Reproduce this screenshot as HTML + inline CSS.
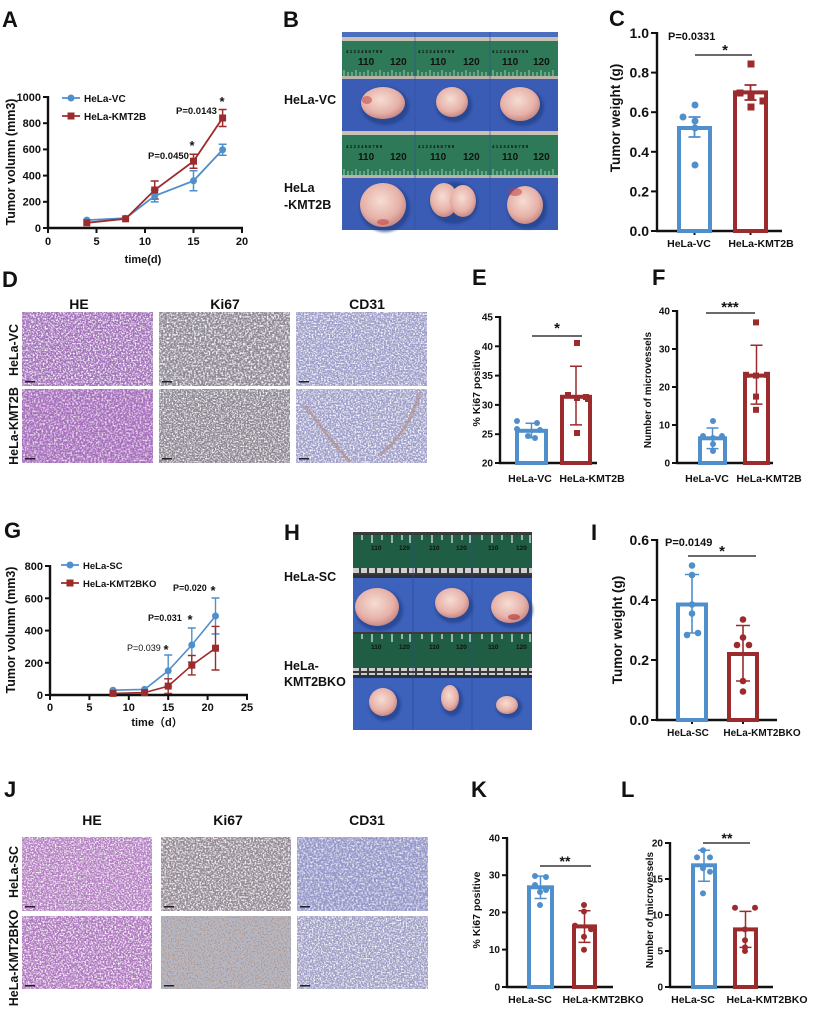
<!DOCTYPE html>
<html><head><meta charset="utf-8"><style>
html,body{margin:0;padding:0;background:#fff;}
svg{display:block;}
text{font-family:"Liberation Sans","Noto Sans CJK SC",Arial,sans-serif;font-weight:bold;fill:#111;}
.ax{stroke:#111;stroke-width:2.4;fill:none;}
.tk{stroke:#111;stroke-width:2;}
.b{stroke:#4f8fcb;}
.r{stroke:#9c2b2e;}
.n{font-weight:normal;}
</style></head><body>
<svg width="824" height="1010" viewBox="0 0 824 1010" xmlns="http://www.w3.org/2000/svg">
<defs>
<filter id="s1" x="0" y="0" width="1" height="1"><feTurbulence type="fractalNoise" baseFrequency="0.6" numOctaves="2" seed="3"/><feColorMatrix type="matrix" values="0 0 0 0 1 0 0 0 0 1 0 0 0 0 1 0 0 0 -3 1.75"/></filter>
<filter id="s2" x="0" y="0" width="1" height="1"><feTurbulence type="fractalNoise" baseFrequency="0.55" numOctaves="2" seed="11"/><feColorMatrix type="matrix" values="0 0 0 0 1 0 0 0 0 1 0 0 0 0 1 0 0 0 -3 1.75"/></filter>
<filter id="s3" x="0" y="0" width="1" height="1"><feTurbulence type="fractalNoise" baseFrequency="0.65" numOctaves="2" seed="27"/><feColorMatrix type="matrix" values="0 0 0 0 1 0 0 0 0 1 0 0 0 0 1 0 0 0 -3 1.75"/></filter>
<filter id="br" x="0" y="0" width="1" height="1"><feTurbulence type="fractalNoise" baseFrequency="0.7" numOctaves="1" seed="5"/><feColorMatrix type="matrix" values="0 0 0 0 0.42 0 0 0 0 0.26 0 0 0 0 0.18 0 0 0 -5 2.6"/></filter>
<filter id="bl"><feGaussianBlur stdDeviation="1.2"/></filter>
<radialGradient id="tg" cx="0.45" cy="0.4" r="0.6"><stop offset="0" stop-color="#f6ddd4"/><stop offset="0.7" stop-color="#e6b1a8"/><stop offset="1" stop-color="#c98a86"/></radialGradient>
<pattern id="sq" width="8" height="7" patternUnits="userSpaceOnUse"><rect width="8" height="7" fill="#3a3a3a"/><rect x="1" y="1" width="6" height="5" fill="#cfcfcf"/></pattern>
</defs>

<!-- ===== Panel A ===== -->
<text x="2" y="27" font-size="22">A</text>
<line class="ax" x1="48" y1="96" x2="48" y2="228"/>
<line class="ax" x1="47" y1="228" x2="243" y2="228"/>
<g class="tk">
<line x1="43" y1="97" x2="48" y2="97"/><line x1="43" y1="123.2" x2="48" y2="123.2"/><line x1="43" y1="149.4" x2="48" y2="149.4"/><line x1="43" y1="175.6" x2="48" y2="175.6"/><line x1="43" y1="201.8" x2="48" y2="201.8"/><line x1="43" y1="228" x2="48" y2="228"/>
<line x1="48" y1="228" x2="48" y2="233"/><line x1="96.5" y1="228" x2="96.5" y2="233"/><line x1="145" y1="228" x2="145" y2="233"/><line x1="193.5" y1="228" x2="193.5" y2="233"/><line x1="242" y1="228" x2="242" y2="233"/>
</g>
<g font-size="11" text-anchor="end">
<text x="41" y="101">1000</text><text x="41" y="127">800</text><text x="41" y="153">600</text><text x="41" y="179.5">400</text><text x="41" y="205.5">200</text><text x="41" y="232">0</text>
</g>
<g font-size="11" text-anchor="middle">
<text x="48" y="245">0</text><text x="96.5" y="245">5</text><text x="145" y="245">10</text><text x="193.5" y="245">15</text><text x="242" y="245">20</text>
<text x="143" y="263">time(d)</text>
</g>
<text transform="translate(15,162) rotate(-90)" font-size="12.5" text-anchor="middle">Tumor volumn (mm3)</text>
<line x1="62" y1="98" x2="80" y2="98" stroke="#4f8fcb" stroke-width="1.8"/><circle cx="71" cy="98" r="3.5" fill="#4f8fcb"/>
<text x="84" y="102" font-size="10">HeLa-VC</text>
<line x1="62" y1="116" x2="80" y2="116" stroke="#9c2b2e" stroke-width="1.8"/><rect x="67.5" y="112.5" width="7" height="7" fill="#9c2b2e"/>
<text x="84" y="120" font-size="10">HeLa-KMT2B</text>
<g stroke-width="1.5" fill="none">
<path class="b" d="M154.7 189.9V201.9M150.7 189.9H158.7M150.7 201.9H158.7M193.5 170.8V190.8M189.5 170.8H197.5M189.5 190.8H197.5M222.6 144.3V155.3M218.6 144.3H226.6M218.6 155.3H226.6"/>
<path class="r" d="M154.7 181V199M150.7 181H158.7M150.7 199H158.7M193.5 154.2V168.2M189.5 154.2H197.5M189.5 168.2H197.5M222.6 109.5V126.5M218.6 109.5H226.6M218.6 126.5H226.6"/>
</g>
<polyline points="86.8,220.1 125.6,218.2 154.7,195.9 193.5,180.8 222.6,149.8" fill="none" stroke="#4f8fcb" stroke-width="1.8"/>
<polyline points="86.8,222.8 125.6,218.8 154.7,190 193.5,161.2 222.6,118" fill="none" stroke="#9c2b2e" stroke-width="1.8"/>
<g fill="#4f8fcb"><circle cx="86.8" cy="220.1" r="3.5"/><circle cx="125.6" cy="218.2" r="3.5"/><circle cx="154.7" cy="195.9" r="3.5"/><circle cx="193.5" cy="180.8" r="3.5"/><circle cx="222.6" cy="149.8" r="3.5"/></g>
<g fill="#9c2b2e"><rect x="83.3" y="219.3" width="7" height="7"/><rect x="122.1" y="215.3" width="7" height="7"/><rect x="151.2" y="186.5" width="7" height="7"/><rect x="190" y="157.7" width="7" height="7"/><rect x="219.1" y="114.5" width="7" height="7"/></g>
<text x="148" y="159" font-size="9.5">P=0.0450</text>
<text x="192" y="150" font-size="13" text-anchor="middle">*</text>
<text x="176" y="114" font-size="9.5">P=0.0143</text>
<text x="222" y="106" font-size="13" text-anchor="middle">*</text>

<!-- ===== Panel B ===== -->
<text x="283" y="27" font-size="22">B</text>
<text x="284" y="104" font-size="12.5">HeLa-VC</text>
<text x="284" y="192" font-size="12.5">HeLa</text>
<text x="284" y="209" font-size="12.5">-KMT2B</text>
<rect x="342" y="32" width="216" height="5" fill="#4a6ec0"/>
<rect x="342" y="37" width="216" height="4" fill="#c9c2b4"/>
<rect x="342" y="41" width="216" height="35" fill="#2e7a58"/>
<rect x="342" y="76" width="216" height="3" fill="#b9b4a8"/>
<rect x="342" y="79" width="216" height="52" fill="#3a5cb5"/>
<rect x="342" y="131" width="216" height="4" fill="#c9c2b4"/>
<rect x="342" y="135" width="216" height="40" fill="#2e7a58"/>
<rect x="342" y="175" width="216" height="3" fill="#b9b4a8"/>
<rect x="342" y="178" width="216" height="52" fill="#3a5cb5"/>
<g stroke="#bfe0cc" stroke-width="0.8">
<path d="M344 76v-6M348 76v-4M352 76v-4M356 76v-6M360 76v-4M364 76v-4M368 76v-6M372 76v-4M376 76v-4M380 76v-6M384 76v-4M388 76v-4M392 76v-6M396 76v-4M400 76v-4M404 76v-6M408 76v-4M412 76v-4M418 76v-6M422 76v-4M426 76v-4M430 76v-6M434 76v-4M438 76v-4M442 76v-6M446 76v-4M450 76v-4M454 76v-6M458 76v-4M462 76v-4M466 76v-6M470 76v-4M474 76v-4M478 76v-6M482 76v-4M486 76v-4M493 76v-6M497 76v-4M501 76v-4M505 76v-6M509 76v-4M513 76v-4M517 76v-6M521 76v-4M525 76v-4M529 76v-6M533 76v-4M537 76v-4M541 76v-6M545 76v-4M549 76v-4M553 76v-6"/>
<path d="M344 175v-6M348 175v-4M352 175v-4M356 175v-6M360 175v-4M364 175v-4M368 175v-6M372 175v-4M376 175v-4M380 175v-6M384 175v-4M388 175v-4M392 175v-6M396 175v-4M400 175v-4M404 175v-6M408 175v-4M412 175v-4M418 175v-6M422 175v-4M426 175v-4M430 175v-6M434 175v-4M438 175v-4M442 175v-6M446 175v-4M450 175v-4M454 175v-6M458 175v-4M462 175v-4M466 175v-6M470 175v-4M474 175v-4M478 175v-6M482 175v-4M486 175v-4M493 175v-6M497 175v-4M501 175v-4M505 175v-6M509 175v-4M513 175v-4M517 175v-6M521 175v-4M525 175v-4M529 175v-6M533 175v-4M537 175v-4M541 175v-6M545 175v-4M549 175v-4M553 175v-6"/>
</g>
<g font-size="10" class="n" style="fill:#cfe6d8;font-weight:normal">
<text x="358" y="65">110</text><text x="390" y="65">120</text><text x="430" y="65">110</text><text x="463" y="65">120</text><text x="502" y="65">110</text><text x="533" y="65">120</text>
<text x="358" y="160">110</text><text x="390" y="160">120</text><text x="430" y="160">110</text><text x="463" y="160">120</text><text x="502" y="160">110</text><text x="533" y="160">120</text>
</g>
<g font-size="4.5" style="fill:#cfe6d8;font-weight:normal">
<text x="346" y="53">4  1 2 3 4 5 6 7 8 9</text><text x="418" y="53">4  1 2 3 4 5 6 7 8 9</text><text x="492" y="53">4  1 2 3 4 5 6 7 8 9</text>
<text x="346" y="148">4  1 2 3 4 5 6 7 8 9</text><text x="418" y="148">4  1 2 3 4 5 6 7 8 9</text><text x="492" y="148">4  1 2 3 4 5 6 7 8 9</text>
</g>
<g stroke="#2d4e9c" stroke-width="1" opacity="0.6"><line x1="415" y1="32" x2="415" y2="230"/><line x1="490" y1="32" x2="490" y2="230"/></g>
<g fill="#213f86" filter="url(#bl)" opacity="0.7">
<ellipse cx="385" cy="106" rx="24" ry="19"/><ellipse cx="454" cy="105" rx="18" ry="17"/><ellipse cx="522" cy="107" rx="22" ry="19"/>
<ellipse cx="385" cy="208" rx="25" ry="24"/><ellipse cx="454" cy="203" rx="24" ry="21"/><ellipse cx="527" cy="208" rx="20" ry="21"/>
</g>
<g fill="url(#tg)">
<ellipse cx="383" cy="103" rx="22" ry="16"/><ellipse cx="452" cy="102" rx="16" ry="15"/><ellipse cx="520" cy="104" rx="20" ry="17"/>
<ellipse cx="383" cy="205" rx="23" ry="22"/><ellipse cx="444" cy="200" rx="14" ry="17"/><ellipse cx="463" cy="201" rx="13" ry="16"/><ellipse cx="525" cy="205" rx="18" ry="19"/>
</g>
<g fill="#c0393c" opacity="0.5"><ellipse cx="367" cy="100" rx="5" ry="4"/><ellipse cx="515" cy="192" rx="7" ry="4"/><ellipse cx="383" cy="222" rx="6" ry="3"/></g>

<!-- ===== Panel C ===== -->
<text x="609" y="26" font-size="22">C</text>
<line class="ax" x1="657" y1="32" x2="657" y2="231"/>
<line class="ax" x1="656" y1="231" x2="782" y2="231"/>
<g class="tk">
<line x1="651" y1="33" x2="657" y2="33"/><line x1="651" y1="72.6" x2="657" y2="72.6"/><line x1="651" y1="112.2" x2="657" y2="112.2"/><line x1="651" y1="151.8" x2="657" y2="151.8"/><line x1="651" y1="191.4" x2="657" y2="191.4"/><line x1="651" y1="231" x2="657" y2="231"/>
<line x1="694.5" y1="231" x2="694.5" y2="235"/><line x1="750.5" y1="231" x2="750.5" y2="235"/>
</g>
<g font-size="14" text-anchor="end">
<text x="649" y="38">1.0</text><text x="649" y="77.6">0.8</text><text x="649" y="117.2">0.6</text><text x="649" y="156.8">0.4</text><text x="649" y="196.4">0.2</text><text x="649" y="236">0.0</text>
</g>
<text transform="translate(620,118) rotate(-90)" font-size="13.5" text-anchor="middle">Tumor weight (g)</text>
<rect x="679" y="128" width="31" height="103" fill="none" stroke="#4f8fcb" stroke-width="4"/>
<rect x="735" y="92.4" width="31" height="138.6" fill="none" stroke="#9c2b2e" stroke-width="4"/>
<path d="M694.5 117V137M688.5 117H700.5M688.5 137H700.5" stroke="#4f8fcb" stroke-width="1.8" fill="none"/>
<path d="M750.5 85V100M744.5 85H756.5M744.5 100H756.5" stroke="#9c2b2e" stroke-width="1.8" fill="none"/>
<g fill="#4f8fcb"><circle cx="695" cy="105" r="3.5"/><circle cx="683" cy="117" r="3.5"/><circle cx="695" cy="121" r="3.5"/><circle cx="695" cy="128" r="3.5"/><circle cx="695" cy="165" r="3.5"/></g>
<g fill="#9c2b2e"><rect x="747.5" y="60.5" width="7" height="7"/><rect x="736.5" y="89.5" width="7" height="7"/><rect x="747.5" y="93.5" width="7" height="7"/><rect x="759.5" y="97.5" width="7" height="7"/><rect x="747.5" y="103.5" width="7" height="7"/></g>
<line x1="695" y1="55" x2="752" y2="55" stroke="#111" stroke-width="1.2"/>
<text x="725" y="55" font-size="15" text-anchor="middle">*</text>
<text x="668" y="40" font-size="11">P=0.0331</text>
<text x="689" y="247" font-size="10.5" text-anchor="middle">HeLa-VC</text>
<text x="761" y="247" font-size="10.5" text-anchor="middle">HeLa-KMT2B</text>

<!-- ===== Panel D ===== -->
<text x="2" y="287" font-size="22">D</text>
<g font-size="14" text-anchor="middle"><text x="79" y="309">HE</text><text x="225" y="309">Ki67</text><text x="367" y="309">CD31</text></g>
<text transform="translate(18,350) rotate(-90)" font-size="12.5" text-anchor="middle">HeLa-VC</text>
<text transform="translate(18,426) rotate(-90)" font-size="12.5" text-anchor="middle">HeLa-KMT2B</text>
<rect x="22" y="312" width="131" height="74" fill="#a06eb8"/><rect x="22" y="312" width="131" height="74" filter="url(#s1)"/>
<rect x="159" y="312" width="131" height="74" fill="#8c8593"/><rect x="159" y="312" width="131" height="74" filter="url(#s2)"/>
<rect x="296" y="312" width="131" height="74" fill="#9a9ac8"/><rect x="296" y="312" width="131" height="74" filter="url(#s3)"/>
<rect x="22" y="389" width="131" height="74" fill="#a56cbb"/><rect x="22" y="389" width="131" height="74" filter="url(#s2)" opacity="0.8"/>
<rect x="159" y="389" width="131" height="74" fill="#8a8390"/><rect x="159" y="389" width="131" height="74" filter="url(#s3)"/>
<rect x="296" y="389" width="131" height="74" fill="#9c9cc8"/><rect x="296" y="389" width="131" height="74" filter="url(#s1)"/>
<path d="M305 405 Q330 440 350 462 M420 392 Q410 430 380 455" stroke="#b08a80" stroke-width="3" fill="none" opacity="0.6"/>
<g fill="#222"><rect x="25" y="381" width="10" height="1.5"/><rect x="162" y="381" width="10" height="1.5"/><rect x="299" y="381" width="10" height="1.5"/><rect x="25" y="458" width="10" height="1.5"/><rect x="162" y="458" width="10" height="1.5"/><rect x="299" y="458" width="10" height="1.5"/></g>

<!-- ===== Panel E ===== -->
<text x="472" y="285" font-size="22">E</text>
<line class="ax" x1="500" y1="316" x2="500" y2="463"/>
<line class="ax" x1="499" y1="463" x2="597" y2="463"/>
<g class="tk">
<line x1="495" y1="317" x2="500" y2="317"/><line x1="495" y1="346.3" x2="500" y2="346.3"/><line x1="495" y1="375.6" x2="500" y2="375.6"/><line x1="495" y1="404.9" x2="500" y2="404.9"/><line x1="495" y1="434.2" x2="500" y2="434.2"/><line x1="495" y1="463" x2="500" y2="463"/>
</g>
<g font-size="10" text-anchor="end">
<text x="493" y="320.5">45</text><text x="493" y="349.8">40</text><text x="493" y="379.1">35</text><text x="493" y="408.4">30</text><text x="493" y="437.7">25</text><text x="493" y="466.5">20</text>
</g>
<text transform="translate(480,388) rotate(-90)" font-size="10.5" text-anchor="middle">% Ki67 positive</text>
<rect x="517" y="430.8" width="29" height="32.2" fill="none" stroke="#4f8fcb" stroke-width="4"/>
<rect x="562" y="396.8" width="28" height="66.2" fill="none" stroke="#9c2b2e" stroke-width="4"/>
<path d="M531.5 423.2V437.8M525.5 423.2H537.5M525.5 437.8H537.5" stroke="#4f8fcb" stroke-width="1.5" fill="none"/>
<path d="M576 366.3V424.9M570 366.3H582M570 424.9H582" stroke="#9c2b2e" stroke-width="1.5" fill="none"/>
<g fill="#4f8fcb"><circle cx="517" cy="421" r="3"/><circle cx="537" cy="423" r="3"/><circle cx="517" cy="429" r="3"/><circle cx="540" cy="430" r="3"/><circle cx="528" cy="436" r="3"/><circle cx="535" cy="438" r="3"/></g>
<g fill="#9c2b2e"><rect x="574" y="340" width="6" height="6"/><rect x="565" y="392" width="6" height="6"/><rect x="583" y="394" width="6" height="6"/><rect x="574" y="395" width="6" height="6"/><rect x="585" y="396" width="6" height="6"/><rect x="574" y="430" width="6" height="6"/></g>
<line x1="532" y1="336" x2="582" y2="336" stroke="#111" stroke-width="1.2"/>
<text x="557" y="333" font-size="15" text-anchor="middle">*</text>
<text x="530" y="482" font-size="10.5" text-anchor="middle">HeLa-VC</text>
<text x="592" y="482" font-size="10.5" text-anchor="middle">HeLa-KMT2B</text>

<!-- ===== Panel F ===== -->
<text x="652" y="285" font-size="22">F</text>
<line class="ax" x1="677" y1="310" x2="677" y2="463"/>
<line class="ax" x1="676" y1="463" x2="773" y2="463"/>
<g class="tk">
<line x1="672" y1="311" x2="677" y2="311"/><line x1="672" y1="349" x2="677" y2="349"/><line x1="672" y1="387" x2="677" y2="387"/><line x1="672" y1="425" x2="677" y2="425"/><line x1="672" y1="463" x2="677" y2="463"/>
</g>
<g font-size="10" text-anchor="end">
<text x="670" y="314.5">40</text><text x="670" y="352.5">30</text><text x="670" y="390.5">20</text><text x="670" y="428.5">10</text><text x="670" y="466.5">0</text>
</g>
<text transform="translate(651,390) rotate(-90)" font-size="10" text-anchor="middle">Number of microvessels</text>
<rect x="700" y="438.3" width="25" height="24.7" fill="none" stroke="#4f8fcb" stroke-width="4"/>
<rect x="745" y="375.6" width="23" height="87.4" fill="none" stroke="#9c2b2e" stroke-width="4"/>
<path d="M712.5 428V448.6M706.5 428H718.5M706.5 448.6H718.5" stroke="#4f8fcb" stroke-width="1.5" fill="none"/>
<path d="M756.5 345.2V404.1M750.5 345.2H762.5M750.5 404.1H762.5" stroke="#9c2b2e" stroke-width="1.5" fill="none"/>
<g fill="#4f8fcb"><circle cx="713" cy="421" r="3"/><circle cx="703" cy="436" r="3"/><circle cx="722" cy="436" r="3"/><circle cx="713" cy="438" r="3"/><circle cx="713" cy="444" r="3"/><circle cx="713" cy="451" r="3"/></g>
<g fill="#9c2b2e"><rect x="753" y="319.4" width="6" height="6"/><rect x="743" y="371.8" width="6" height="6"/><rect x="764" y="371.8" width="6" height="6"/><rect x="753" y="372.6" width="6" height="6"/><rect x="753" y="393.6" width="6" height="6"/><rect x="753" y="406.8" width="6" height="6"/></g>
<line x1="706" y1="313" x2="755" y2="313" stroke="#111" stroke-width="1.2"/>
<text x="730" y="312" font-size="15" text-anchor="middle">***</text>
<text x="707" y="482" font-size="10.5" text-anchor="middle">HeLa-VC</text>
<text x="769" y="482" font-size="10.5" text-anchor="middle">HeLa-KMT2B</text>

<!-- ===== Panel G ===== -->
<text x="4" y="538" font-size="22">G</text>
<line class="ax" x1="50" y1="565" x2="50" y2="695"/>
<line class="ax" x1="49" y1="695" x2="248" y2="695"/>
<g class="tk">
<line x1="45" y1="566" x2="50" y2="566"/><line x1="45" y1="598.3" x2="50" y2="598.3"/><line x1="45" y1="630.6" x2="50" y2="630.6"/><line x1="45" y1="662.8" x2="50" y2="662.8"/><line x1="45" y1="695" x2="50" y2="695"/>
<line x1="50" y1="695" x2="50" y2="700"/><line x1="89.4" y1="695" x2="89.4" y2="700"/><line x1="128.8" y1="695" x2="128.8" y2="700"/><line x1="168.2" y1="695" x2="168.2" y2="700"/><line x1="207.6" y1="695" x2="207.6" y2="700"/><line x1="247" y1="695" x2="247" y2="700"/>
</g>
<g font-size="11" text-anchor="end">
<text x="43" y="570">800</text><text x="43" y="602.3">600</text><text x="43" y="634.6">400</text><text x="43" y="666.8">200</text><text x="43" y="699">0</text>
</g>
<g font-size="11" text-anchor="middle">
<text x="50" y="711">0</text><text x="89.4" y="711">5</text><text x="128.8" y="711">10</text><text x="168.2" y="711">15</text><text x="207.6" y="711">20</text><text x="247" y="711">25</text>
<text x="157" y="726">time（d）</text>
</g>
<text transform="translate(15,630) rotate(-90)" font-size="12.5" text-anchor="middle">Tumor volumn (mm3)</text>
<line x1="61" y1="565" x2="79" y2="565" stroke="#4f8fcb" stroke-width="1.8"/><circle cx="70" cy="565" r="3.5" fill="#4f8fcb"/>
<text x="83" y="569" font-size="9.5">HeLa-SC</text>
<line x1="61" y1="583" x2="79" y2="583" stroke="#9c2b2e" stroke-width="1.8"/><rect x="66.5" y="579.5" width="7" height="7" fill="#9c2b2e"/>
<text x="83" y="587" font-size="9.5">HeLa-KMT2BKO</text>
<g stroke-width="1.4" fill="none">
<path class="b" d="M168.2 655V686.6M164.2 655H172.2M164.2 686.6H172.2M191.8 628V662M187.8 628H195.8M187.8 662H195.8M215.5 598V634M211.5 598H219.5M211.5 634H219.5"/>
<path class="r" d="M168.2 678.8V693.4M164.2 678.8H172.2M164.2 693.4H172.2M191.8 655.5V674.9M187.8 655.5H195.8M187.8 674.9H195.8M215.5 626.4V670M211.5 626.4H219.5M211.5 670H219.5"/>
</g>
<polyline points="113,690.2 144.6,689.4 168.2,670.8 191.8,645 215.5,616" fill="none" stroke="#4f8fcb" stroke-width="1.6"/>
<polyline points="113,693.4 144.6,692.6 168.2,686.1 191.8,665.2 215.5,648.2" fill="none" stroke="#9c2b2e" stroke-width="1.6"/>
<g fill="#4f8fcb"><circle cx="113" cy="690.2" r="3.5"/><circle cx="144.6" cy="689.4" r="3.5"/><circle cx="168.2" cy="670.8" r="3.5"/><circle cx="191.8" cy="645" r="3.5"/><circle cx="215.5" cy="616" r="3.5"/></g>
<g fill="#9c2b2e"><rect x="109.5" y="689.9" width="7" height="7"/><rect x="141.1" y="689.1" width="7" height="7"/><rect x="164.7" y="682.6" width="7" height="7"/><rect x="188.3" y="661.7" width="7" height="7"/><rect x="212" y="644.7" width="7" height="7"/></g>
<text x="127" y="651" font-size="9" class="n" style="font-weight:normal">P=0.039</text>
<text x="166" y="654" font-size="13" text-anchor="middle">*</text>
<text x="148" y="621" font-size="9">P=0.031</text>
<text x="190" y="624" font-size="13" text-anchor="middle">*</text>
<text x="173" y="591" font-size="9">P=0.020</text>
<text x="213" y="595" font-size="13" text-anchor="middle">*</text>

<!-- ===== Panel H ===== -->
<text x="284" y="540" font-size="22">H</text>
<text x="284" y="581" font-size="12.5">HeLa-SC</text>
<text x="284" y="670" font-size="12.5">HeLa-</text>
<text x="284" y="686" font-size="12.5">KMT2BKO</text>
<rect x="353" y="532" width="179" height="3" fill="#3a3a3a"/>
<rect x="353" y="535" width="179" height="33" fill="#1f5e44"/>
<rect x="353" y="568" width="179" height="7" fill="url(#sq)"/>
<rect x="353" y="575" width="179" height="3" fill="#2a3040"/>
<rect x="353" y="578" width="179" height="54" fill="#3d62bb"/>
<rect x="353" y="632" width="179" height="2" fill="#3a3a3a"/>
<rect x="353" y="634" width="179" height="34" fill="#1f5e44"/>
<rect x="353" y="668" width="179" height="7" fill="url(#sq)"/>
<rect x="353" y="675" width="179" height="3" fill="#2a3040"/>
<rect x="353" y="678" width="179" height="52" fill="#3d62bb"/>
<g stroke="#e8f0ea" stroke-width="1.2">
<path d="M362 535v5M372 535v8M382 535v5M392 535v8M402 535v5M410 535v8M422 535v5M432 535v8M442 535v5M452 535v8M462 535v5M470 535v8M482 535v5M492 535v8M502 535v5M512 535v8M522 535v5M530 535v8"/>
<path d="M362 634v5M372 634v8M382 634v5M392 634v8M402 634v5M410 634v8M422 634v5M432 634v8M442 634v5M452 634v8M462 634v5M470 634v8M482 634v5M492 634v8M502 634v5M512 634v8M522 634v5M530 634v8"/>
</g>
<g font-size="6.5" style="fill:#e8f0ea;font-weight:normal">
<text x="371" y="550">110</text><text x="399" y="550">120</text><text x="429" y="550">110</text><text x="456" y="550">120</text><text x="488" y="550">110</text><text x="516" y="550">120</text>
<text x="371" y="649">110</text><text x="399" y="649">120</text><text x="429" y="649">110</text><text x="456" y="649">120</text><text x="488" y="649">110</text><text x="516" y="649">120</text>
</g>
<g stroke="#2a4a90" stroke-width="1" opacity="0.6"><line x1="413" y1="532" x2="413" y2="730"/><line x1="472" y1="532" x2="472" y2="730"/></g>
<g fill="#23408a" filter="url(#bl)" opacity="0.7">
<ellipse cx="379" cy="610" rx="24" ry="21"/><ellipse cx="454" cy="606" rx="19" ry="17"/><ellipse cx="512" cy="610" rx="21" ry="18"/>
<ellipse cx="385" cy="705" rx="16" ry="16"/><ellipse cx="452" cy="701" rx="11" ry="15"/><ellipse cx="509" cy="707" rx="13" ry="11"/>
</g>
<g fill="url(#tg)">
<ellipse cx="377" cy="607" rx="22" ry="19"/><ellipse cx="452" cy="603" rx="17" ry="15"/><ellipse cx="510" cy="607" rx="19" ry="16"/>
<ellipse cx="383" cy="702" rx="14" ry="14"/><ellipse cx="450" cy="698" rx="9" ry="13"/><ellipse cx="507" cy="705" rx="11" ry="9"/>
</g>
<ellipse cx="514" cy="617" rx="6" ry="3" fill="#b03030" opacity="0.6"/>

<!-- ===== Panel I ===== -->
<text x="591" y="540" font-size="22">I</text>
<line class="ax" x1="657" y1="539" x2="657" y2="720"/>
<line class="ax" x1="656" y1="720" x2="777" y2="720"/>
<g class="tk">
<line x1="651" y1="540" x2="657" y2="540"/><line x1="651" y1="600" x2="657" y2="600"/><line x1="651" y1="660" x2="657" y2="660"/><line x1="651" y1="720" x2="657" y2="720"/>
<line x1="692" y1="720" x2="692" y2="724"/><line x1="743" y1="720" x2="743" y2="724"/>
</g>
<g font-size="14" text-anchor="end">
<text x="649" y="545">0.6</text><text x="649" y="605">0.4</text><text x="649" y="665">0.2</text><text x="649" y="725">0.0</text>
</g>
<text transform="translate(622,630) rotate(-90)" font-size="13.5" text-anchor="middle">Tumor weight (g)</text>
<rect x="678" y="604.5" width="28" height="115.5" fill="none" stroke="#4f8fcb" stroke-width="4"/>
<rect x="729" y="654" width="28" height="66" fill="none" stroke="#9c2b2e" stroke-width="4"/>
<path d="M692 574.5V633M685 574.5H699M685 633H699" stroke="#4f8fcb" stroke-width="1.6" fill="none"/>
<path d="M743 625.5V681M736 625.5H750M736 681H750" stroke="#9c2b2e" stroke-width="1.6" fill="none"/>
<g fill="#4f8fcb"><circle cx="692" cy="565.5" r="3.3"/><circle cx="692" cy="575" r="3.3"/><circle cx="692" cy="604.5" r="3.3"/><circle cx="692" cy="613.5" r="3.3"/><circle cx="687" cy="635" r="3.3"/><circle cx="698" cy="633" r="3.3"/></g>
<g fill="#9c2b2e"><circle cx="743" cy="619.5" r="3.3"/><circle cx="743" cy="637.5" r="3.3"/><circle cx="737" cy="645" r="3.3"/><circle cx="749" cy="645" r="3.3"/><circle cx="743" cy="681" r="3.3"/><circle cx="743" cy="691.5" r="3.3"/></g>
<line x1="688" y1="556" x2="756" y2="556" stroke="#111" stroke-width="1.2"/>
<text x="722" y="556" font-size="15" text-anchor="middle">*</text>
<text x="665" y="546" font-size="11">P=0.0149</text>
<text x="688" y="736" font-size="10" text-anchor="middle">HeLa-SC</text>
<text x="762" y="736" font-size="10" text-anchor="middle">HeLa-KMT2BKO</text>

<!-- ===== Panel J ===== -->
<text x="4" y="797" font-size="22">J</text>
<g font-size="14" text-anchor="middle"><text x="92" y="825">HE</text><text x="228" y="825">Ki67</text><text x="367" y="825">CD31</text></g>
<text transform="translate(18,872) rotate(-90)" font-size="12.5" text-anchor="middle">HeLa-SC</text>
<text transform="translate(18,958) rotate(-90)" font-size="12.5" text-anchor="middle">HeLa-KMT2BKO</text>
<rect x="22" y="837" width="130" height="74" fill="#b27cc0"/><rect x="22" y="837" width="130" height="74" filter="url(#s3)"/>
<rect x="161" y="837" width="130" height="74" fill="#928792"/><rect x="161" y="837" width="130" height="74" filter="url(#s1)"/>
<rect x="297" y="837" width="131" height="74" fill="#9496c8"/><rect x="297" y="837" width="131" height="74" filter="url(#s2)" opacity="0.8"/>
<rect x="22" y="916" width="130" height="73" fill="#ad75bd"/><rect x="22" y="916" width="130" height="73" filter="url(#s1)"/>
<rect x="161" y="916" width="130" height="73" fill="#b6b8c6"/><rect x="161" y="916" width="130" height="73" filter="url(#br)" opacity="0.75"/>
<rect x="297" y="916" width="131" height="73" fill="#9c9cc4"/><rect x="297" y="916" width="131" height="73" filter="url(#s3)"/>
<g fill="#222"><rect x="25" y="906" width="10" height="1.5"/><rect x="164" y="906" width="10" height="1.5"/><rect x="300" y="906" width="10" height="1.5"/><rect x="25" y="985" width="10" height="1.5"/><rect x="164" y="985" width="10" height="1.5"/><rect x="300" y="985" width="10" height="1.5"/></g>

<!-- ===== Panel K ===== -->
<text x="471" y="797" font-size="22">K</text>
<line class="ax" x1="507" y1="837" x2="507" y2="987"/>
<line class="ax" x1="506" y1="987" x2="613" y2="987"/>
<g class="tk">
<line x1="502" y1="838" x2="507" y2="838"/><line x1="502" y1="875.2" x2="507" y2="875.2"/><line x1="502" y1="912.4" x2="507" y2="912.4"/><line x1="502" y1="949.6" x2="507" y2="949.6"/><line x1="502" y1="987" x2="507" y2="987"/>
</g>
<g font-size="10" text-anchor="end">
<text x="500" y="841.5">40</text><text x="500" y="878.7">30</text><text x="500" y="915.9">20</text><text x="500" y="953.1">10</text><text x="500" y="990.5">0</text>
</g>
<text transform="translate(480,910) rotate(-90)" font-size="10.5" text-anchor="middle">% Ki67 positive</text>
<rect x="529" y="887.3" width="23" height="99.7" fill="none" stroke="#4f8fcb" stroke-width="4"/>
<rect x="574" y="926.4" width="21" height="60.6" fill="none" stroke="#9c2b2e" stroke-width="4"/>
<path d="M540.5 876.1V898.5M534.5 876.1H546.5M534.5 898.5H546.5" stroke="#4f8fcb" stroke-width="1.5" fill="none"/>
<path d="M584.5 910.7V942.4M578.5 910.7H590.5M578.5 942.4H590.5" stroke="#9c2b2e" stroke-width="1.5" fill="none"/>
<g fill="#4f8fcb"><circle cx="535" cy="876" r="3"/><circle cx="546" cy="877" r="3"/><circle cx="535" cy="885" r="3"/><circle cx="546" cy="890" r="3"/><circle cx="540" cy="892" r="3"/><circle cx="540" cy="905" r="3"/></g>
<g fill="#9c2b2e"><circle cx="584" cy="905" r="3"/><circle cx="584" cy="911.5" r="3"/><circle cx="575" cy="925.6" r="3"/><circle cx="591" cy="929.3" r="3"/><circle cx="584" cy="936.8" r="3"/><circle cx="584" cy="949.8" r="3"/></g>
<line x1="540" y1="866" x2="591" y2="866" stroke="#111" stroke-width="1.2"/>
<text x="565" y="866" font-size="14" text-anchor="middle">**</text>
<text x="530" y="1003" font-size="10.5" text-anchor="middle">HeLa-SC</text>
<text x="603" y="1003" font-size="10.5" text-anchor="middle">HeLa-KMT2BKO</text>

<!-- ===== Panel L ===== -->
<text x="621" y="797" font-size="22">L</text>
<line class="ax" x1="670" y1="842" x2="670" y2="987"/>
<line class="ax" x1="669" y1="987" x2="773" y2="987"/>
<g class="tk">
<line x1="665" y1="843" x2="670" y2="843"/><line x1="665" y1="879" x2="670" y2="879"/><line x1="665" y1="915" x2="670" y2="915"/><line x1="665" y1="951" x2="670" y2="951"/><line x1="665" y1="987" x2="670" y2="987"/>
</g>
<g font-size="10" text-anchor="end">
<text x="663" y="846.5">20</text><text x="663" y="882.5">15</text><text x="663" y="918.5">10</text><text x="663" y="954.5">5</text><text x="663" y="990.5">0</text>
</g>
<text transform="translate(653,910) rotate(-90)" font-size="10" text-anchor="middle">Number of microvessels</text>
<rect x="693" y="865.3" width="22" height="121.7" fill="none" stroke="#4f8fcb" stroke-width="4"/>
<rect x="735" y="929.4" width="21" height="57.6" fill="none" stroke="#9c2b2e" stroke-width="4"/>
<path d="M704 850.2V881.2M698 850.2H710M698 881.2H710" stroke="#4f8fcb" stroke-width="1.5" fill="none"/>
<path d="M745.5 911.4V947.4M739.5 911.4H751.5M739.5 947.4H751.5" stroke="#9c2b2e" stroke-width="1.5" fill="none"/>
<g fill="#4f8fcb"><circle cx="703" cy="850.2" r="3"/><circle cx="697" cy="857.4" r="3"/><circle cx="710" cy="857.4" r="3"/><circle cx="703" cy="868.2" r="3"/><circle cx="710" cy="871.8" r="3"/><circle cx="703" cy="893.4" r="3"/></g>
<g fill="#9c2b2e"><circle cx="735" cy="907.8" r="3"/><circle cx="755" cy="907.8" r="3"/><circle cx="745" cy="929.4" r="3"/><circle cx="745" cy="940.2" r="3"/><circle cx="745" cy="947.4" r="3"/><circle cx="745" cy="951" r="3"/></g>
<line x1="703" y1="843" x2="750" y2="843" stroke="#111" stroke-width="1.2"/>
<text x="727" y="843" font-size="14" text-anchor="middle">**</text>
<text x="693" y="1003" font-size="10.5" text-anchor="middle">HeLa-SC</text>
<text x="767" y="1003" font-size="10.5" text-anchor="middle">HeLa-KMT2BKO</text>
</svg>
</body></html>
